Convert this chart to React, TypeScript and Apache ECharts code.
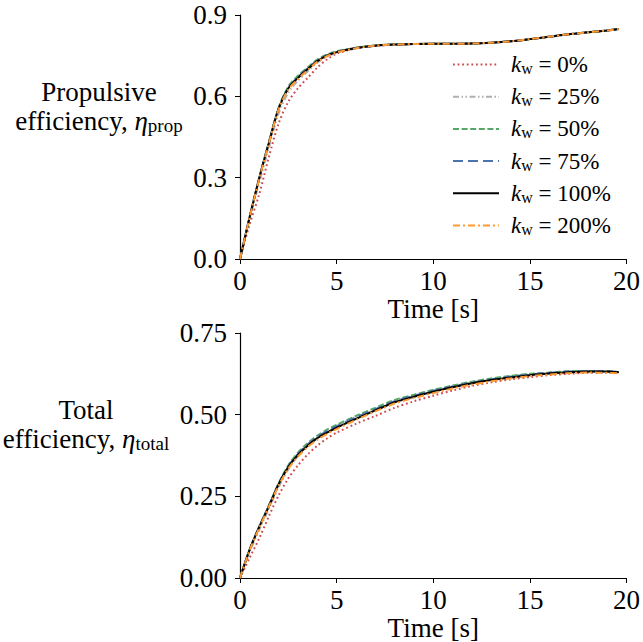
import React, { useEffect, useRef } from "react";
import * as echarts from "echarts";

const time = [0, 0.5, 1, 1.5, 2, 2.5, 3, 3.5, 4, 4.5, 5, 6, 7, 8, 9, 10, 11, 12, 13, 14, 15, 16, 17, 18, 19, 19.6];

const legendNames = ["0%", "25%", "50%", "75%", "100%", "200%"];

// Propulsive efficiency
const propK0 = [0, 0.128, 0.24, 0.378, 0.5, 0.58, 0.63, 0.668, 0.706, 0.736, 0.757, 0.777, 0.786, 0.791, 0.793, 0.794, 0.794, 0.795, 0.798, 0.803, 0.811, 0.82, 0.829, 0.836, 0.843, 0.848];
const propK25 = [0, 0.147, 0.282, 0.412, 0.537, 0.614, 0.658, 0.692, 0.724, 0.746, 0.761, 0.778, 0.787, 0.791, 0.793, 0.794, 0.794, 0.795, 0.798, 0.803, 0.811, 0.82, 0.829, 0.836, 0.843, 0.848];
const propK50 = [0, 0.155, 0.3, 0.432, 0.558, 0.636, 0.676, 0.707, 0.736, 0.754, 0.766, 0.779, 0.788, 0.791, 0.793, 0.794, 0.794, 0.795, 0.798, 0.803, 0.811, 0.82, 0.829, 0.836, 0.843, 0.848];
const propK75 = [0, 0.155, 0.3, 0.431, 0.556, 0.632, 0.671, 0.703, 0.732, 0.751, 0.764, 0.778, 0.787, 0.791, 0.793, 0.794, 0.794, 0.795, 0.798, 0.803, 0.811, 0.82, 0.829, 0.836, 0.843, 0.848];
const propK100 = [0, 0.155, 0.3, 0.43, 0.555, 0.63, 0.668, 0.7, 0.73, 0.75, 0.763, 0.778, 0.787, 0.791, 0.793, 0.794, 0.794, 0.795, 0.798, 0.803, 0.811, 0.82, 0.829, 0.836, 0.843, 0.848];
const propK200 = [0, 0.153, 0.297, 0.428, 0.552, 0.625, 0.664, 0.697, 0.727, 0.748, 0.762, 0.777, 0.787, 0.791, 0.793, 0.794, 0.794, 0.795, 0.798, 0.803, 0.811, 0.82, 0.829, 0.836, 0.843, 0.848];

// Total efficiency
const totK0 = [0, 0.062, 0.122, 0.19, 0.253, 0.305, 0.345, 0.378, 0.405, 0.427, 0.445, 0.472, 0.496, 0.521, 0.541, 0.558, 0.574, 0.588, 0.599, 0.608, 0.615, 0.621, 0.625, 0.628, 0.628, 0.627];
const totK25 = [0, 0.08, 0.148, 0.213, 0.278, 0.333, 0.373, 0.404, 0.428, 0.447, 0.462, 0.49, 0.516, 0.54, 0.557, 0.572, 0.586, 0.598, 0.608, 0.616, 0.622, 0.627, 0.631, 0.633, 0.632, 0.63];
const totK50 = [0, 0.087, 0.157, 0.223, 0.29, 0.345, 0.384, 0.413, 0.436, 0.454, 0.469, 0.496, 0.521, 0.545, 0.561, 0.576, 0.589, 0.601, 0.611, 0.619, 0.625, 0.629, 0.633, 0.634, 0.633, 0.631];
const totK75 = [0, 0.087, 0.157, 0.222, 0.288, 0.342, 0.38, 0.409, 0.432, 0.45, 0.465, 0.492, 0.517, 0.541, 0.558, 0.573, 0.586, 0.598, 0.608, 0.616, 0.623, 0.628, 0.632, 0.633, 0.633, 0.63];
const totK100 = [0, 0.087, 0.157, 0.22, 0.287, 0.34, 0.377, 0.405, 0.428, 0.445, 0.46, 0.487, 0.513, 0.538, 0.555, 0.57, 0.584, 0.596, 0.606, 0.614, 0.621, 0.626, 0.63, 0.632, 0.632, 0.63];
const totK200 = [0, 0.085, 0.154, 0.219, 0.283, 0.335, 0.372, 0.401, 0.423, 0.441, 0.456, 0.484, 0.51, 0.534, 0.551, 0.566, 0.58, 0.592, 0.602, 0.611, 0.618, 0.623, 0.627, 0.629, 0.628, 0.627];

const propSeries = [propK0, propK25, propK50, propK75, propK100, propK200];
const totSeries = [totK0, totK25, totK50, totK75, totK100, totK200];

const colors = ["#cc4c4f", "#b0b0b0", "#55a868", "#4c72b0", "#000000", "#ff9a33"];
const dashes: any[] = [[1.8, 2.8], [6, 2.5, 1.5, 2.5, 1.5, 2.5], [6, 2.6], [10, 5], "solid", [7, 3, 2, 3]];

const FONT = "Liberation Serif";

export default function App() {
  const ref = useRef<HTMLDivElement>(null);
  useEffect(() => {
    const chart = echarts.init(ref.current!, undefined, { renderer: "svg" });
    const axisCommon = {
      axisLine: { show: true, lineStyle: { color: "#000", width: 1.2 } },
      axisTick: { show: true, inside: false, length: 5, lineStyle: { color: "#000", width: 1 } },
      splitLine: { show: false },
    };
    const xAxis = (gi: number) => ({
      type: "value",
      gridIndex: gi,
      min: 0,
      max: 20,
      interval: 5,
      name: "Time [s]",
      nameLocation: "middle",
      nameGap: 36,
      nameTextStyle: { fontFamily: FONT, fontSize: 27, color: "#000" },
      axisLabel: { fontFamily: FONT, fontSize: 27, color: "#000", margin: 8 },
      ...axisCommon,
    });
    const yAxis = (gi: number, max: number, interval: number, dec: number) => ({
      type: "value",
      gridIndex: gi,
      min: 0,
      max,
      interval,
      axisLabel: {
        fontFamily: FONT,
        fontSize: 27,
        color: "#000",
        margin: 13,
        formatter: (v: number) => v.toFixed(dec),
      },
      ...axisCommon,
    });
    const series: any[] = [];
    [propSeries, totSeries].forEach((set, gi) => {
      set.forEach((vals, i) => {
        series.push({
          type: "line",
          name: legendNames[i],
          xAxisIndex: gi,
          yAxisIndex: gi,
          data: time.map((t, j) => [t, vals[j]]),
          smooth: 0.3,
          symbol: "none",
          lineStyle: { color: colors[i], width: 2, type: dashes[i] },
          itemStyle: { color: colors[i] },
          z: 2 + i,
        });
      });
    });
    const labelRich = {
      a: { fontFamily: FONT, fontSize: 27, color: "#000", lineHeight: 29 },
      e: { fontFamily: FONT, fontSize: 27, fontStyle: "italic", color: "#000", lineHeight: 29 },
      s: { fontFamily: FONT, fontSize: 19, color: "#000", lineHeight: 20, verticalAlign: "bottom" },
    };
    chart.setOption({
      animation: false,
      backgroundColor: "#fff",
      grid: [
        { left: 240, right: 13, top: 15, height: 244 },
        { left: 240, right: 13, top: 333, height: 245 },
      ],
      xAxis: [xAxis(0), xAxis(1)],
      yAxis: [yAxis(0, 0.9, 0.3, 1), yAxis(1, 0.75, 0.25, 2)],
      legend: {
        orient: "vertical",
        left: 447,
        top: 48,
        itemWidth: 46,
        itemHeight: 14,
        itemGap: 8.7,
        data: legendNames,
        itemStyle: { color: "transparent", borderWidth: 0, borderColor: "transparent" },
        formatter: (n: string) => `{k|k}{w|w}{t| = ${n}}`,
        textStyle: {
          padding: [0, 0, 0, 7],
          rich: {
            k: { fontFamily: FONT, fontStyle: "italic", fontSize: 23, color: "#000", lineHeight: 24 },
            w: { fontFamily: FONT, fontSize: 16, color: "#000", lineHeight: 16, verticalAlign: "bottom" },
            t: { fontFamily: FONT, fontSize: 23, color: "#000", lineHeight: 24 },
          },
        },
      },
      graphic: [
        {
          type: "text",
          x: 99,
          y: 106,
          style: {
            text: "{a|Propulsive}\n{a|efficiency, }{e|η}{s|prop}",
            rich: labelRich,
            align: "center",
            verticalAlign: "middle",
          },
        },
        {
          type: "text",
          x: 86,
          y: 424,
          style: {
            text: "{a|Total}\n{a|efficiency, }{e|η}{s|total}",
            rich: labelRich,
            align: "center",
            verticalAlign: "middle",
          },
        },
      ],
      series,
    });
    return () => chart.dispose();
  }, []);
  return (
    <div
      ref={ref}
      style={{ position: "fixed", left: 0, top: 0, width: 643, height: 642, background: "#fff" }}
    />
  );
}
